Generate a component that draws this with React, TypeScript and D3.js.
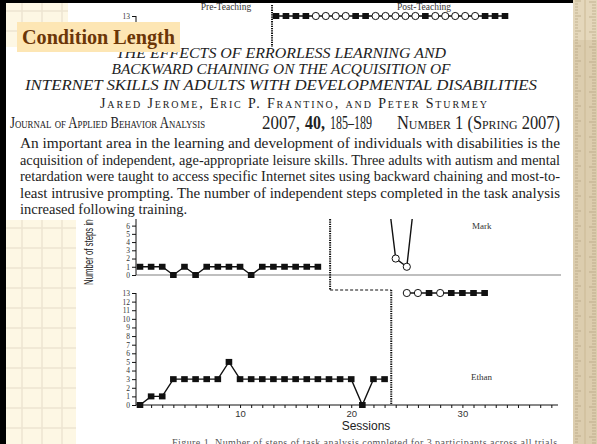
import React, { useEffect, useRef } from 'react';
import * as d3 from 'd3';

// first participant, only the post-teaching row shows above the paper
const topSessions = [13, 14, 15, 16, 17, 18, 19, 20, 21, 22, 23, 24, 25, 26, 27, 28, 29, 30, 31, 32, 33, 34, 35, 36];
const topSteps = [13, 13, 13, 13, 13, 13, 13, 13, 13, 13, 13, 13, 13, 13, 13, 13, 13, 13, 13, 13, 13, 13, 13, 13];
const topMarks = ['s', 's', 's', 's', 'c', 'c', 'c', 'c', 's', 's', 'c', 'c', 'c', 'c', 'c', 's', 'c', 'c', 'c', 'c', 'c', 's', 's', 's'];

// Mark
const markPreSessions = [1, 2, 3, 4, 5, 6, 7, 8, 9, 10, 11, 12, 13, 14, 15, 16, 17];
const markPreSteps = [1, 1, 1, 0, 1, 0, 1, 1, 1, 1, 0, 1, 1, 1, 1, 1, 1];
const markPostSessions = [22, 23, 24, 25, 26, 27];
const markPostSteps = [13, 13, 2, 1, 13, 13];
const markPostMarks = ['s', 's', 'c', 'c', 's', 's'];

// Ethan
const ethanPreSessions = [1, 2, 3, 4, 5, 6, 7, 8, 9, 10, 11, 12, 13, 14, 15, 16, 17, 18, 19, 20, 21, 22, 23];
const ethanPreSteps = [0, 1, 1, 3, 3, 3, 3, 3, 5, 3, 3, 3, 3, 3, 3, 3, 3, 3, 3, 3, 0, 3, 3];
const ethanPostSessions = [25, 26, 27, 28, 29, 30, 31, 32];
const ethanPostSteps = [13, 13, 13, 13, 13, 13, 13, 13];
const ethanPostMarks = ['c', 'c', 's', 'c', 's', 's', 's', 's'];

const stepTicks = [0, 1, 2, 3, 4, 5, 6, 7, 8, 9, 10, 11, 12, 13];
const markVisibleTicks = [0, 1, 2, 3, 4, 5, 6];
const topVisibleTicks = [13];
const sessionLabels = [10, 20, 30];

const titleLines = [
    'THE EFFECTS OF ERRORLESS LEARNING AND',
    'BACKWARD CHAINING ON THE ACQUISITION OF',
    'INTERNET SKILLS IN ADULTS WITH DEVELOPMENTAL DISABILITIES',
];
const paragraph = [
    'An important area in the learning and development of individuals with disabilities is the',
    'acquisition of independent, age-appropriate leisure skills. Three adults with autism and mental',
    'retardation were taught to access specific Internet sites using backward chaining and most-to-',
    'least intrusive prompting. The number of independent steps completed in the task analysis',
    'increased following training.',
];

const SERIF = '"Liberation Serif", "DejaVu Serif", serif';
const SANS = '"Liberation Sans", Arial, sans-serif';

const App = () => {
    const svgRef = useRef<SVGSVGElement>(null);

    useEffect(() => {
        const root = d3.select(svgRef.current);
        root.selectAll('*').remove();

        const width = 597;
        const height = 444;
        const svg = root.attr('width', width).attr('height', height);

        svg.append('rect').attr('width', width).attr('height', height).attr('fill', '#fff');

        // cream note-paper grid at the left edge
        const grid = (x0, y0, x1, y1) => {
            const g = svg.append('g');
            g.append('rect').attr('x', x0).attr('y', y0).attr('width', x1 - x0).attr('height', y1 - y0).attr('fill', '#fdf7e4');
            g.selectAll('.gv').data(d3.range(22, x1, 20)).enter().append('line')
                .attr('x1', (d) => d).attr('x2', (d) => d).attr('y1', y0).attr('y2', y1)
                .attr('stroke', '#ece4d2').attr('stroke-width', 1.5);
            g.selectAll('.gh').data(d3.range(y0 + 8, y1, 20)).enter().append('line')
                .attr('x1', x0).attr('x2', x1).attr('y1', (d) => d).attr('y2', (d) => d)
                .attr('stroke', '#ece4d2').attr('stroke-width', 1.5);
        };
        grid(6, 3, 68, 47);
        grid(6, 220, 76, 444);

        // scales
        const x = d3.scaleLinear().domain([0.55, 38.6]).range([135, 558]);
        const xTop = d3.scaleLinear().domain([13, 36]).range([276, 505]);
        const yTop = d3.scaleLinear().domain([0, 13]).range([128, 16]);
        const yMark = d3.scaleLinear().domain([0, 13]).range([275, 168]);
        const yEthan = d3.scaleLinear().domain([0, 13]).range([405, 293]);

        const drawSeries = (sessions, steps, marks, xs, ys) => {
            const pts = sessions.map((s, i) => ({ s, v: steps[i], m: marks ? marks[i] : 's' }));
            const g = svg.append('g');
            g.append('path')
                .attr('d', d3.line<any>().x((d) => xs(d.s)).y((d) => ys(d.v))(pts))
                .attr('fill', 'none').attr('stroke', '#111').attr('stroke-width', 1.4);
            g.selectAll('rect').data(pts.filter((d) => d.m === 's')).enter().append('rect')
                .attr('x', (d) => xs(d.s) - 3.3).attr('y', (d) => ys(d.v) - 3)
                .attr('width', 6.6).attr('height', 6).attr('fill', '#111');
            g.selectAll('circle').data(pts.filter((d) => d.m === 'c')).enter().append('circle')
                .attr('cx', (d) => xs(d.s)).attr('cy', (d) => ys(d.v)).attr('r', 3.6)
                .attr('fill', '#fff').attr('stroke', '#111').attr('stroke-width', 1);
        };

        const yAxis = (ys, ticks, top) => {
            const g = svg.append('g').attr('transform', 'translate(136,0)')
                .call(d3.axisLeft(ys).tickValues(ticks).tickSize(4).tickFormat(d3.format('d')));
            g.select('.domain').attr('stroke', '#111').attr('d', `M0,${top}V${ys(0)}`);
            g.selectAll('.tick line').attr('stroke', '#111');
            g.selectAll('.tick text').attr('font-family', SERIF).attr('font-size', 7.5).attr('fill', '#333').attr('x', -6);
            return g;
        };

        // first participant row
        yAxis(yTop, topVisibleTicks, yTop(13));
        svg.append('line').attr('x1', xTop(12.6)).attr('x2', xTop(12.6)).attr('y1', 5).attr('y2', 47)
            .attr('stroke', '#111').attr('stroke-width', 2).attr('stroke-dasharray', '1.3,1');
        drawSeries(topSessions, topSteps, topMarks, xTop, yTop);
        svg.append('text').attr('x', 226).attr('y', 10).attr('text-anchor', 'middle')
            .attr('font-family', SERIF).attr('font-size', 9.5).attr('fill', '#333').text('Pre-Teaching');
        svg.append('text').attr('x', 424).attr('y', 10).attr('text-anchor', 'middle')
            .attr('font-family', SERIF).attr('font-size', 9.5).attr('fill', '#333').text('Post-Teaching');

        // Mark panel
        svg.append('line').attr('x1', 136).attr('x2', 561).attr('y1', yMark(0)).attr('y2', yMark(0))
            .attr('stroke', '#aaa').attr('stroke-width', 1.6);
        yAxis(yMark, markVisibleTicks, 219);
        drawSeries(markPreSessions, markPreSteps, null, x, yMark);
        drawSeries(markPostSessions, markPostSteps, markPostMarks, x, yMark);
        svg.append('text').attr('x', 472).attr('y', 229).attr('font-family', SERIF).attr('font-size', 9)
            .attr('fill', '#333').text('Mark');

        // phase change staircase
        const markPhase = 18.1;
        const ethanPhase = 23.6;
        svg.append('line').attr('x1', x(markPhase)).attr('x2', x(markPhase)).attr('y1', 180).attr('y2', 290)
            .attr('stroke', '#111').attr('stroke-width', 2).attr('stroke-dasharray', '1.3,1');
        svg.append('line').attr('x1', x(markPhase)).attr('x2', x(ethanPhase)).attr('y1', 290).attr('y2', 290)
            .attr('stroke', '#111').attr('stroke-width', 1.2).attr('stroke-dasharray', '3,2');
        svg.append('line').attr('x1', x(ethanPhase)).attr('x2', x(ethanPhase)).attr('y1', 290).attr('y2', yEthan(0))
            .attr('stroke', '#111').attr('stroke-width', 2).attr('stroke-dasharray', '1.3,1');

        // Ethan panel
        yAxis(yEthan, stepTicks, yEthan(13));
        const xa = svg.append('g').attr('transform', `translate(0,${yEthan(0)})`)
            .call(d3.axisBottom(x).tickValues(d3.range(1, 39)).tickSize(3)
                .tickFormat((d) => (sessionLabels.includes(+d) ? String(d) : '')));
        xa.select('.domain').attr('stroke', '#111').attr('d', `M136,0H558`);
        xa.selectAll('.tick line').attr('stroke', '#111');
        xa.selectAll('.tick text').attr('font-family', SANS).attr('font-size', 9.5).attr('fill', '#333').attr('y', 5);
        drawSeries(ethanPreSessions, ethanPreSteps, null, x, yEthan);
        drawSeries(ethanPostSessions, ethanPostSteps, ethanPostMarks, x, yEthan);
        svg.append('text').attr('x', 471).attr('y', 380).attr('font-family', SERIF).attr('font-size', 9)
            .attr('fill', '#333').text('Ethan');
        svg.append('text').attr('x', 366).attr('y', 430).attr('text-anchor', 'middle')
            .attr('font-family', SANS).attr('font-size', 12).attr('fill', '#222').text('Sessions');
        svg.append('text').attr('x', 172).attr('y', 446).attr('textLength', 388)
            .attr('font-family', SERIF).attr('font-size', 10).attr('fill', '#555')
            .text('Figure 1.   Number of steps of task analysis completed for 3 participants across all trials.');

        // y label, squeezed like the scan
        svg.append('text').attr('transform', 'translate(93,285) rotate(-90) scale(0.6,1)')
            .attr('font-family', SANS).attr('font-size', 13).attr('fill', '#222')
            .text('Number of steps independently completed');

        // the journal page laid over the chart
        svg.append('rect').attr('x', 8).attr('y', 47).attr('width', 565).attr('height', 172).attr('fill', '#fff');
        const titles = [
            { y: 58, w: 330 },
            { y: 74, w: 339 },
            { y: 90, w: 512 },
        ];
        titleLines.forEach((t, i) => {
            svg.append('text').attr('x', 281).attr('y', titles[i].y).attr('text-anchor', 'middle')
                .attr('textLength', titles[i].w).attr('lengthAdjust', 'spacingAndGlyphs')
                .attr('font-family', SERIF).attr('font-style', 'italic').attr('font-size', 15).attr('fill', '#222').text(t);
        });
        svg.append('text').attr('x', 100).attr('y', 108).attr('textLength', 387)
            .attr('font-family', SERIF).attr('font-size', 14).style('font-variant', 'small-caps').attr('fill', '#222')
            .text('Jared Jerome, Eric P. Frantino, and Peter Sturmey');
        svg.append('text').attr('x', 10).attr('y', 128).attr('textLength', 195).attr('lengthAdjust', 'spacingAndGlyphs')
            .attr('font-family', SERIF).attr('font-size', 16).style('font-variant', 'small-caps').attr('fill', '#222')
            .text('Journal of Applied Behavior Analysis');
        const citation = [
            { t: '2007,', x: 262, w: 38, bold: false },
            { t: '40,', x: 305, w: 20, bold: true },
            { t: '185–189', x: 330, w: 42, bold: false },
        ];
        citation.forEach((c) => {
            svg.append('text').attr('x', c.x).attr('y', 129).attr('textLength', c.w).attr('lengthAdjust', 'spacingAndGlyphs')
                .attr('font-family', SERIF).attr('font-size', 19).attr('font-weight', c.bold ? 'bold' : 'normal')
                .attr('fill', '#222').text(c.t);
        });
        svg.append('text').attr('x', 397).attr('y', 129).attr('textLength', 163).attr('lengthAdjust', 'spacingAndGlyphs')
            .attr('font-family', SERIF).attr('font-size', 18).style('font-variant', 'small-caps').attr('fill', '#222')
            .text('Number 1 (Spring 2007)');
        paragraph.forEach((line, i) => {
            const t = svg.append('text').attr('x', 20).attr('y', 148 + i * 16.5)
                .attr('font-family', SERIF).attr('font-size', 14.5).attr('fill', '#222').text(line);
            if (i < paragraph.length - 1) t.attr('textLength', 540).attr('lengthAdjust', 'spacingAndGlyphs');
        });

        // slide label
        svg.append('rect').attr('x', 17).attr('y', 22).attr('width', 163).attr('height', 30).attr('fill', '#fde6b4');
        svg.append('text').attr('x', 22).attr('y', 44).attr('textLength', 153).attr('lengthAdjust', 'spacingAndGlyphs')
            .attr('font-family', SERIF).attr('font-weight', 'bold')
            .attr('font-size', 20).attr('fill', '#6b3608').text('Condition Length');

        // page border
        svg.append('rect').attr('x', 0).attr('y', 0).attr('width', 6).attr('height', height).attr('fill', '#000');
        svg.append('rect').attr('x', 0).attr('y', 0).attr('width', 573).attr('height', 3).attr('fill', '#000');

        // ruler strip on the right
        const ruler = svg.append('g');
        ruler.append('rect').attr('x', 573).attr('y', 0).attr('width', 24).attr('height', height).attr('fill', '#dccdae');
        ruler.append('rect').attr('x', 573).attr('y', 0).attr('width', 24).attr('height', 40).attr('fill', '#e4d7bb');
        ruler.selectAll('.rt').data(d3.range(1, height, 3)).enter().append('line')
            .attr('x1', 575).attr('x2', (d, i) => (i % 5 === 0 ? 581 : 578))
            .attr('y1', (d) => d).attr('y2', (d) => d).attr('stroke', '#a08c6a').attr('stroke-width', 0.5);
        ruler.selectAll('.rt2').data(d3.range(2, height, 3)).enter().append('line')
            .attr('x1', (d, i) => (i % 5 === 0 ? 589 : 592)).attr('x2', 596)
            .attr('y1', (d) => d).attr('y2', (d) => d).attr('stroke', '#a08c6a').attr('stroke-width', 0.5);
        ruler.append('line').attr('x1', 585).attr('x2', 585).attr('y1', 0).attr('y2', height)
            .attr('stroke', '#cbb994').attr('stroke-width', 1);
    }, []);

    return <svg ref={svgRef} style={{ position: 'absolute', left: 0, top: 0 }}></svg>;
};

export default App;
